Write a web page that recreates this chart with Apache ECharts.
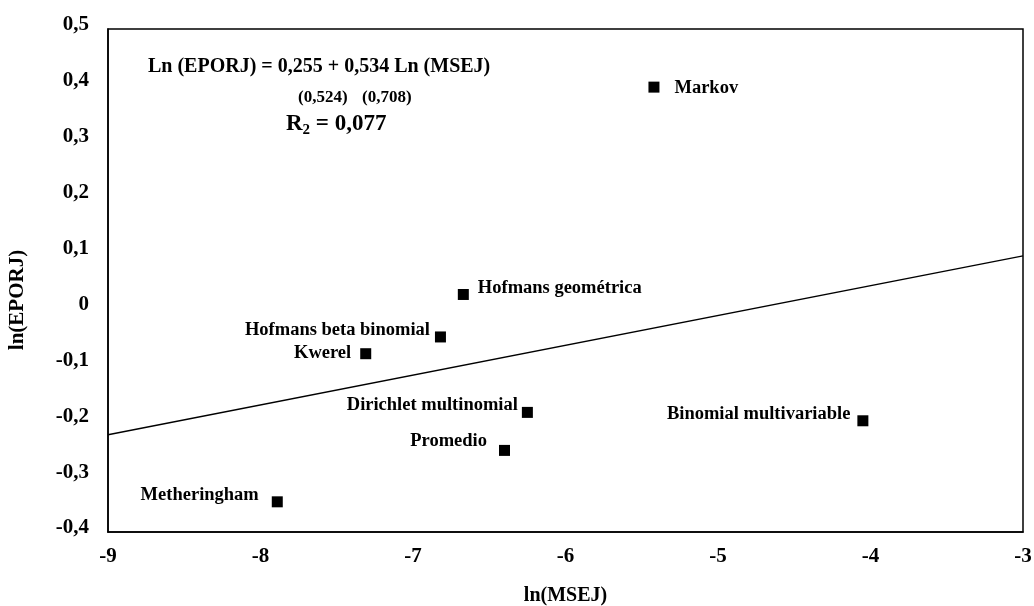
<!DOCTYPE html>
<html>
<head>
<meta charset="utf-8">
<script src="https://cdn.jsdelivr.net/npm/echarts@6/dist/echarts.min.js"></script>
<style>
html,body{margin:0;padding:0;background:#fff;}
#c{width:1034px;height:606px;}
</style>
</head>
<body>
<div id="c"></div>
<script>
// ---- data ----
var modelNames = ['Markov', 'Hofmans geométrica', 'Hofmans beta binomial', 'Kwerel',
  'Dirichlet multinomial', 'Binomial multivariable', 'Promedio', 'Metheringham'];
var lnMSEJ  = [-5.42, -6.67, -6.82, -7.31, -6.25, -4.05, -6.40, -7.89];
var lnEPORJ = [0.396, 0.025, -0.051, -0.081, -0.186, -0.201, -0.254, -0.346];
var trendX = [-9, -3];
var trendY = [-0.226, 0.094];
var xTicks = [-9, -8, -7, -6, -5, -4, -3];
var yTicks = [-0.4, -0.3, -0.2, -0.1, 0, 0.1, 0.2, 0.3, 0.4, 0.5];
var equationMain = 'Ln (EPORJ) = 0,255 + 0,534 Ln (MSEJ)';
var stdErrors = ['(0,524)', '(0,708)'];
var r2Text = ['R', '2', ' = 0,077'];
var xName = 'ln(MSEJ)';
var yName = 'ln(EPORJ)';

// label placement per point (style, not data)
var labelSide = {
  'Markov': {position: 'right', offset: [10, 1]},
  'Hofmans geométrica': {position: 'right', offset: [4, -6]},
  'Hofmans beta binomial': {position: 'left', offset: [0, -7]},
  'Kwerel': {position: 'left', offset: [-4, 0]},
  'Dirichlet multinomial': {position: 'left', offset: [1, -7]},
  'Binomial multivariable': {position: 'left', offset: [-2, -7]},
  'Promedio': {position: 'left', offset: [-7, -9]},
  'Metheringham': {position: 'left', offset: [-8, -7]}
};

var serif = '"Liberation Serif", "Times New Roman", serif';
var pts = modelNames.map(function (n, i) {
  var s = labelSide[n];
  return {name: n, value: [lnMSEJ[i], lnEPORJ[i]],
    label: {show: true, position: s.position, offset: s.offset}};
});

function fmtY(v) {
  var r = Math.round(v * 10) / 10;
  if (Math.abs(r) < 1e-9) return '0';
  return r.toFixed(1).replace('.', ',');
}

var chart = echarts.init(document.getElementById('c'), null, {renderer: 'canvas'});
chart.setOption({
  animation: false,
  backgroundColor: '#fff',
  grid: {left: 108, top: 29, right: 11, bottom: 74, show: true, containLabel: false,
    outerBoundsMode: 'none',
    borderColor: '#000', borderWidth: 1.5, backgroundColor: 'transparent'},
  xAxis: {
    type: 'value', min: xTicks[0], max: xTicks[xTicks.length - 1], interval: 1,
    name: xName, nameLocation: 'middle', nameGap: 54,
    nameTextStyle: {fontFamily: serif, fontWeight: 'bold', fontSize: 20, color: '#000'},
    axisLine: {onZero: false, lineStyle: {color: '#000', width: 1.5}},
    axisTick: {show: false},
    splitLine: {show: false},
    axisLabel: {fontFamily: serif, fontWeight: 'bold', fontSize: 21, color: '#000', margin: 14,
      formatter: function (v) { return String(v); }}
  },
  yAxis: {
    type: 'value', min: yTicks[0], max: yTicks[yTicks.length - 1], interval: 0.1,
    axisLine: {onZero: false, lineStyle: {color: '#000', width: 1.5}},
    axisTick: {show: false},
    splitLine: {show: false},
    axisLabel: {fontFamily: serif, fontWeight: 'bold', fontSize: 21, color: '#000', margin: 19,
      verticalAlign: 'bottom', lineHeight: 8, formatter: fmtY}
  },
  series: [
    {
      type: 'line',
      data: trendX.map(function (x, i) { return [x, trendY[i]]; }),
      symbol: 'none',
      lineStyle: {color: '#000', width: 1.3},
      silent: true, z: 2
    },
    {
      type: 'scatter',
      data: pts,
      symbol: 'rect', symbolSize: 11,
      itemStyle: {color: '#000', opacity: 1},
      label: {fontFamily: serif, fontWeight: 'bold', fontSize: 18.5, color: '#000',
        formatter: '{b}'},
      z: 3
    }
  ],
  graphic: [
    {type: 'text', x: 18, y: 300, rotation: Math.PI / 2,
      style: {text: yName, font: 'bold 21px ' + serif, fill: '#000', align: 'center', verticalAlign: 'middle'}},
    {type: 'text', left: 148, top: 57,
      style: {text: equationMain, font: 'bold 20px ' + serif, fill: '#000'}},
    {type: 'text', left: 298, top: 89,
      style: {text: stdErrors[0], font: 'bold 17px ' + serif, fill: '#000'}},
    {type: 'text', left: 362, top: 89,
      style: {text: stdErrors[1], font: 'bold 17px ' + serif, fill: '#000'}},
    {type: 'text', left: 286, top: 113,
      style: {text: '{a|' + r2Text[0] + '}{s|' + r2Text[1] + '}{a|' + r2Text[2] + '}',
        rich: {
          a: {font: 'bold 23px ' + serif, fill: '#000', verticalAlign: 'bottom'},
          s: {font: 'bold 15px ' + serif, fill: '#000', verticalAlign: 'bottom', padding: [0, 0, -2, 0]}
        }}}
  ]
});
</script>
</body>
</html>
